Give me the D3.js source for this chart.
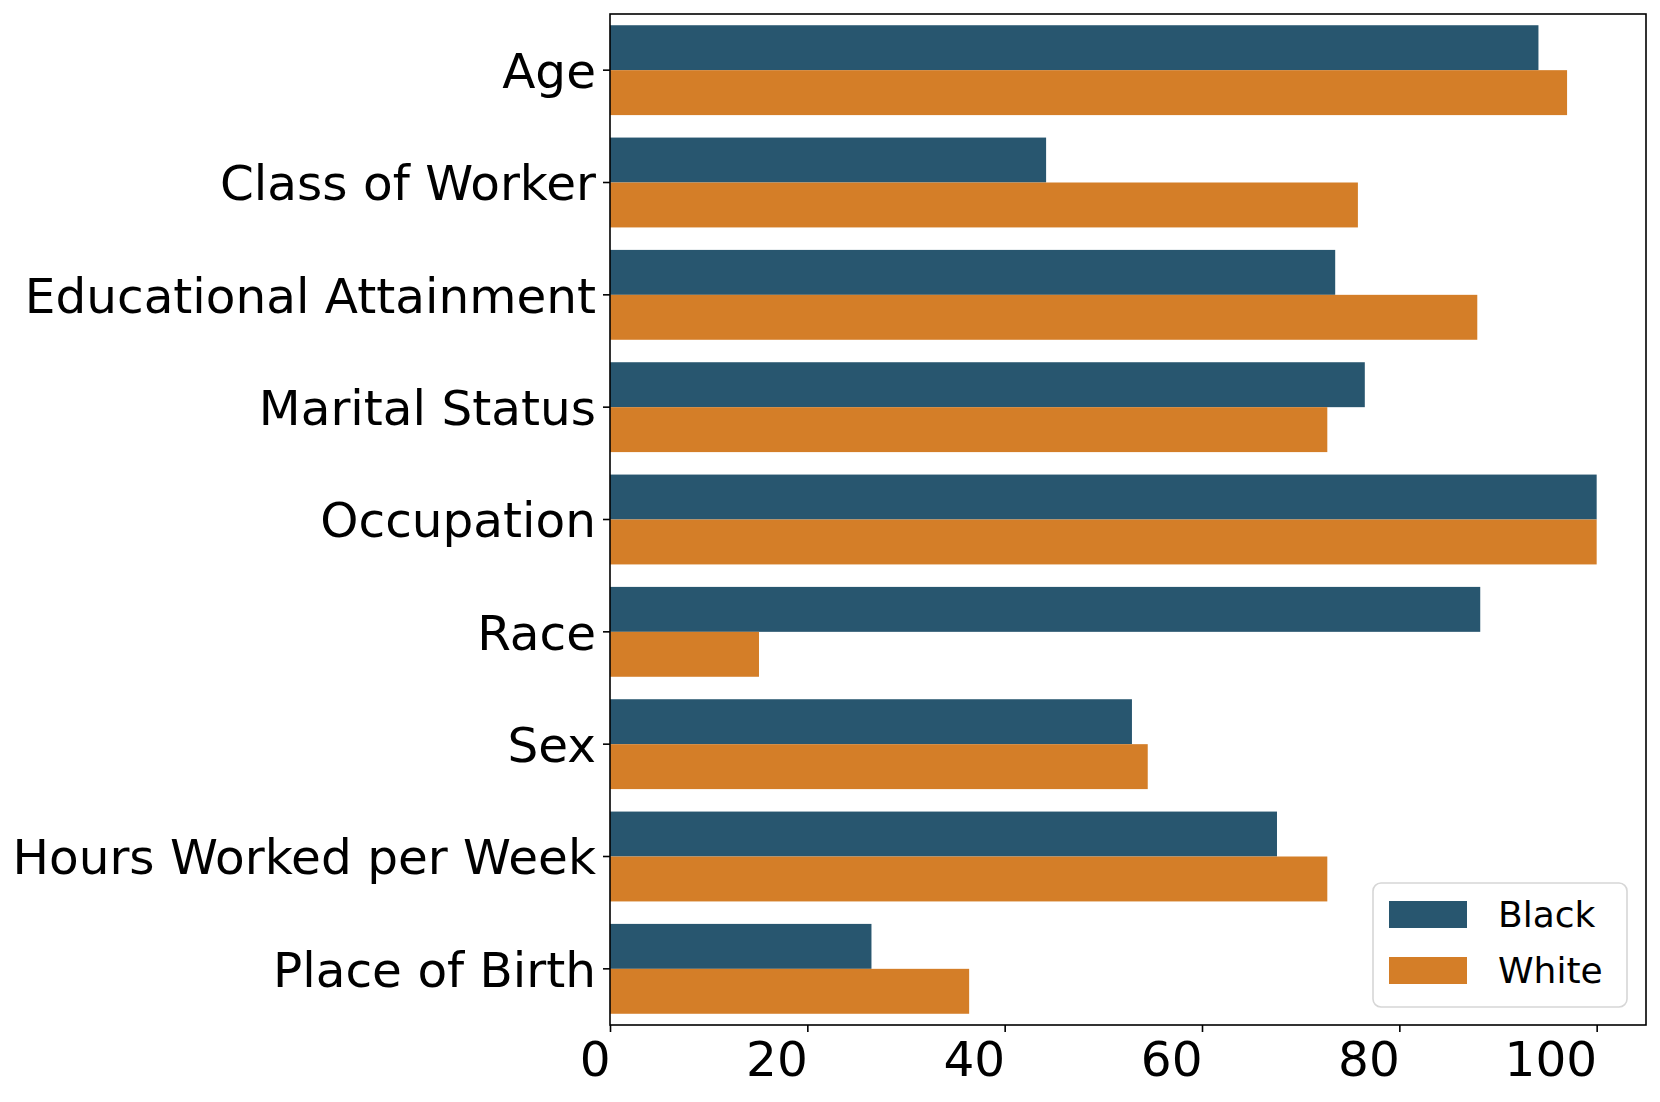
<!DOCTYPE html>
<html>
<head>
<meta charset="utf-8">
<script src="https://cdn.jsdelivr.net/npm/d3@7"></script>
<style>
  body { margin: 0; background: #fff; }
  svg { display: block; }
  svg text { font-family: "DejaVu Sans", sans-serif; }
</style>
</head>
<body>
<svg id="chart"></svg>
<script>
// data
const categories = ['Age', 'Class of Worker', 'Educational Attainment', 'Marital Status',
  'Occupation', 'Race', 'Sex', 'Hours Worked per Week', 'Place of Birth'];
const seriesNames = ['Black', 'White'];
const blackValues = [94.1, 44.2, 73.5, 76.5, 100, 88.2, 52.9, 67.6, 26.5];
const whiteValues = [97.0, 75.8, 87.9, 72.7, 100, 15.1, 54.5, 72.7, 36.4];
const xTicks = [0, 20, 40, 60, 80, 100];
const colors = { Black: '#28566f', White: '#d47e28' };

const width = 1660;
const height = 1102;
const margin = { top: 14, right: 14, bottom: 77, left: 610 };
const innerW = width - margin.left - margin.right;
const innerH = height - margin.top - margin.bottom;

const svg = d3.select('#chart')
  .attr('width', width)
  .attr('height', height);

svg.append('rect')
  .attr('width', width)
  .attr('height', height)
  .attr('fill', '#fff');

const g = svg.append('g')
  .attr('transform', `translate(${margin.left},${margin.top})`);

// scales
const x = d3.scaleLinear()
  .domain([0, 105])
  .range([0, innerW]);

const y = d3.scaleBand()
  .domain(categories)
  .range([0, innerH])
  .paddingInner(0.2)
  .paddingOuter(0.1);

const ySub = d3.scaleBand()
  .domain(seriesNames)
  .range([0, y.bandwidth()]);

const rows = categories.map((c, i) => ({
  category: c,
  values: [
    { name: 'Black', value: blackValues[i] },
    { name: 'White', value: whiteValues[i] }
  ]
}));

// bars
g.selectAll('.group')
  .data(rows)
  .enter()
  .append('g')
  .attr('class', 'group')
  .attr('transform', d => `translate(0,${y(d.category)})`)
  .selectAll('rect')
  .data(d => d.values)
  .enter()
  .append('rect')
  .attr('x', x(0))
  .attr('y', d => ySub(d.name))
  .attr('width', d => x(d.value) - x(0))
  .attr('height', ySub.bandwidth())
  .attr('fill', d => colors[d.name]);

// x axis
const xAxis = g.append('g')
  .attr('transform', `translate(0,${innerH})`)
  .call(d3.axisBottom(x).tickValues(xTicks).tickSize(7).tickPadding(7).tickFormat(d3.format('d')));
xAxis.attr('font-family', null);
xAxis.select('.domain').remove();
xAxis.selectAll('line').attr('stroke', '#000').attr('stroke-width', 1.6);
xAxis.selectAll('text')
  .attr('fill', '#000')
  .attr('font-size', 48.5)
  .attr('text-anchor', 'end')
  .attr('x', 0)
  .attr('dy', '0.76em');

// y axis
const yAxis = g.append('g')
  .call(d3.axisLeft(y).tickSize(7).tickPadding(7));
yAxis.attr('font-family', null);
yAxis.select('.domain').remove();
yAxis.selectAll('line').attr('stroke', '#000').attr('stroke-width', 1.6);
yAxis.selectAll('text')
  .attr('fill', '#000')
  .attr('font-size', 48.5)
  .attr('dy', '0.37em');

// frame
g.append('rect')
  .attr('width', innerW)
  .attr('height', innerH)
  .attr('fill', 'none')
  .attr('stroke', '#000')
  .attr('stroke-width', 1.6);

// legend
const legend = svg.append('g')
  .attr('transform', 'translate(1373,883)');

legend.append('rect')
  .attr('width', 254)
  .attr('height', 124)
  .attr('rx', 8)
  .attr('fill', '#fff')
  .attr('stroke', '#d6d6d6')
  .attr('stroke-width', 1.6);

seriesNames.forEach((name, i) => {
  const row = legend.append('g')
    .attr('transform', `translate(16,${18 + i * 56})`);
  row.append('rect')
    .attr('width', 78)
    .attr('height', 27)
    .attr('fill', colors[name]);
  row.append('text')
    .attr('x', 109)
    .attr('y', 26)
    .attr('font-size', 36)
    .attr('fill', '#000')
    .text(name);
});
</script>
</body>
</html>
